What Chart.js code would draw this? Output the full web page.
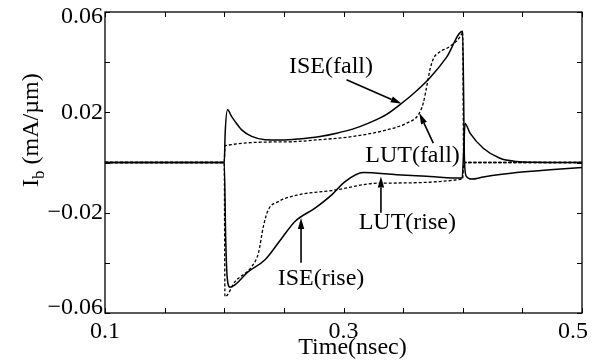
<!DOCTYPE html>
<html>
<head>
<meta charset="utf-8">
<script src="https://cdn.jsdelivr.net/npm/chart.js@4.4.0/dist/chart.umd.min.js"></script>
<style>
  html, body { margin: 0; padding: 0; background: #fff; }
  #wrap { width: 595px; height: 364px; }
</style>
</head>
<body>
<div id="wrap"><canvas id="chart" width="595" height="364"></canvas></div>
<script>
// time in nsec, current in mA/um
const iseFallX = [0.1, 0.2, 0.2008, 0.2028, 0.206, 0.209, 0.2146, 0.223, 0.2342, 0.248, 0.2621, 0.2803, 0.2943, 0.3082, 0.32, 0.3362, 0.3474, 0.3585, 0.3725, 0.3865, 0.3999, 0.4015, 0.403, 0.4075, 0.4172, 0.4312, 0.4452, 0.4732, 0.5]
const iseFallY = [0, 0, 0.012, 0.021, 0.0185, 0.0164, 0.013, 0.0104, 0.0091, 0.009, 0.0094, 0.0104, 0.0117, 0.0134, 0.0155, 0.0192, 0.0231, 0.0274, 0.0338, 0.042, 0.0523, 0.0, -0.0055, -0.0066, -0.0058, -0.0048, -0.004, -0.0029, -0.002]

const iseRiseX = [0.1, 0.2, 0.2012, 0.2025, 0.2048, 0.2202, 0.2342, 0.2482, 0.2593, 0.2761, 0.2901, 0.3013, 0.3166, 0.3446, 0.3725, 0.3995, 0.4008, 0.4019, 0.4061, 0.4172, 0.4312, 0.4452, 0.46, 0.5]
const iseRiseY = [0, 0, -0.03, -0.046, -0.0497, -0.0435, -0.0388, -0.0302, -0.0235, -0.0182, -0.0129, -0.0076, -0.004, -0.0049, -0.0056, -0.0062, 0.005, 0.0155, 0.0117, 0.0057, 0.0017, 0.0004, 0.0001, 0]

const lutFallX = [0.1, 0.2, 0.2006, 0.25, 0.2803, 0.3082, 0.3362, 0.353, 0.3627, 0.3669, 0.3698, 0.3725, 0.3755, 0.3795, 0.3893, 0.3991, 0.3999, 0.4008, 0.5]
const lutFallY = [0, 0, 0.0067, 0.0082, 0.0091, 0.0104, 0.013, 0.0157, 0.019, 0.0237, 0.0303, 0.037, 0.0415, 0.0437, 0.0463, 0.0512, 0.0522, 0, 0]

const lutRiseX = [0.1, 0.2, 0.2006, 0.209, 0.223, 0.2286, 0.2328, 0.2369, 0.2453, 0.2621, 0.2901, 0.3306, 0.3999, 0.4008, 0.5]
const lutRiseY = [0, 0, -0.0535, -0.0475, -0.0415, -0.0362, -0.0255, -0.0189, -0.0156, -0.0129, -0.0112, -0.0082, -0.0066, 0, 0]

const xTickLabels = [0.1, 0.3, 0.5]
const yTickLabels = [-0.06, -0.02, 0.02, 0.06]

// annotations, in data coordinates
const noteText = ['ISE(fall)', 'LUT(fall)', 'LUT(rise)', 'ISE(rise)']
const noteX = [0.2895, 0.3579, 0.3535, 0.2811]
const noteY = [0.038, 0.0028, -0.024, -0.0462]
const arrowFromX = [0.3025, 0.3753, 0.3314, 0.2644]
const arrowFromY = [0.033, 0.0077, -0.02, -0.04]
const arrowToX = [0.3488, 0.3636, 0.3314, 0.2644]
const arrowToY = [0.0234, 0.0197, -0.0056, -0.0221]

const FONT = '"Liberation Serif", "Times New Roman", serif'
Chart.defaults.font.family = FONT
Chart.defaults.color = '#000'

const toPoints = (xs, ys) => xs.map((x, i) => ({ x: x, y: ys[i] }))
const near = (a, b) => Math.abs(a - b) < 1e-9
const isLabel = (v, list) => list.some((t) => near(t, v))

function line(xs, ys, dashed) {
  return {
    data: toPoints(xs, ys),
    borderColor: '#000',
    borderWidth: dashed ? 1.3 : 1.5,
    borderDash: dashed ? [3, 2] : [],
    pointRadius: 0,
    fill: false,
    cubicInterpolationMode: 'monotone',
  }
}

// the end labels of the y axis sit a little inside, like in the original
function yLabel(v) {
  if (!isLabel(v, yTickLabels)) return ''
  const s = v.toFixed(2).replace('-', '\u2212')
  if (near(v, 0.06)) return ['', s]
  if (near(v, -0.06)) return [s, '']
  return s
}

function yFont(c) {
  const v = c.tick ? c.tick.value : 0
  if (near(v, 0.06)) return { size: 24, lineHeight: '8.5px' }
  if (near(v, -0.06)) return { size: 24, lineHeight: '10.5px' }
  return { size: 24 }
}

const decorations = {
  id: 'decorations',
  afterDraw(chart) {
    const ctx = chart.ctx
    const a = chart.chartArea
    const xs = chart.scales.x
    const ys = chart.scales.y
    ctx.save()
    ctx.strokeStyle = '#000'
    ctx.fillStyle = '#000'

    // frame
    ctx.lineWidth = 1.3
    ctx.strokeRect(a.left, a.top, a.right - a.left, a.bottom - a.top)

    // inward ticks on all sides
    ctx.lineWidth = 1
    ctx.beginPath()
    xs.ticks.forEach((t) => {
      const px = Math.round(xs.getPixelForValue(t.value)) + 0.5
      ctx.moveTo(px, a.bottom); ctx.lineTo(px, a.bottom - 5)
      ctx.moveTo(px, a.top); ctx.lineTo(px, a.top + 5)
    })
    ys.ticks.forEach((t) => {
      const py = Math.round(ys.getPixelForValue(t.value)) + 0.5
      ctx.moveTo(a.left, py); ctx.lineTo(a.left + 5, py)
      ctx.moveTo(a.right, py); ctx.lineTo(a.right - 5, py)
    })
    ctx.stroke()

    // annotation texts
    ctx.font = '24px ' + FONT
    ctx.textAlign = 'center'
    ctx.textBaseline = 'middle'
    noteText.forEach((txt, i) => {
      ctx.fillText(txt, xs.getPixelForValue(noteX[i]), ys.getPixelForValue(noteY[i]))
    })

    // arrows
    ctx.lineWidth = 1.6
    noteText.forEach((txt, i) => {
      const x0 = xs.getPixelForValue(arrowFromX[i])
      const y0 = ys.getPixelForValue(arrowFromY[i])
      const x1 = xs.getPixelForValue(arrowToX[i])
      const y1 = ys.getPixelForValue(arrowToY[i])
      const ang = Math.atan2(y1 - y0, x1 - x0)
      const len = 11
      const half = 3.2
      const bx = x1 - len * Math.cos(ang)
      const by = y1 - len * Math.sin(ang)
      ctx.beginPath()
      ctx.moveTo(x0, y0)
      ctx.lineTo(bx, by)
      ctx.stroke()
      ctx.beginPath()
      ctx.moveTo(x1, y1)
      ctx.lineTo(bx + half * Math.sin(ang), by - half * Math.cos(ang))
      ctx.lineTo(bx - half * Math.sin(ang), by + half * Math.cos(ang))
      ctx.closePath()
      ctx.fill()
    })

    // x axis title
    ctx.textAlign = 'center'
    ctx.textBaseline = 'alphabetic'
    ctx.fillText('Time(nsec)', (a.left + a.right) / 2 + 9, 354)

    // y axis title with subscript
    ctx.translate(38, 187)
    ctx.rotate(-Math.PI / 2)
    ctx.textAlign = 'left'
    ctx.font = '24px ' + FONT
    ctx.fillText('I', 0, 0)
    let w = ctx.measureText('I').width
    ctx.font = '17px ' + FONT
    ctx.fillText('b', w, 6)
    w += ctx.measureText('b').width
    ctx.font = '24px ' + FONT
    ctx.fillText(' (mA/\u00b5m)', w, 0)
    ctx.restore()
  },
}

new Chart(document.getElementById('chart').getContext('2d'), {
  type: 'line',
  data: {
    datasets: [
      line(iseFallX, iseFallY, false),
      line(iseRiseX, iseRiseY, false),
      line(lutFallX, lutFallY, true),
      line(lutRiseX, lutRiseY, true),
    ],
  },
  options: {
    responsive: false,
    animation: false,
    devicePixelRatio: 1,
    layout: { padding: { top: 12, right: 13, left: 0, bottom: 0 } },
    plugins: { legend: { display: false }, tooltip: { enabled: false } },
    scales: {
      x: {
        type: 'linear',
        min: 0.1,
        max: 0.5,
        grid: { display: true, drawOnChartArea: false, drawTicks: false },
        border: { display: false },
        ticks: {
          stepSize: 0.05,
          autoSkip: false,
          maxRotation: 0,
          padding: 4,
          font: { size: 24 },
          color: '#000',
          // last label is pulled inside the canvas edge
          callback: (v) => (isLabel(v, xTickLabels) ? String(Math.round(v * 10) / 10) + (near(v, 0.5) ? '   ' : '') : ''),
        },
        afterFit(scale) {
          scale.height = 51
          scale.paddingLeft = 0
          scale.paddingRight = 0
        },
      },
      y: {
        min: -0.06,
        max: 0.06,
        grid: { display: true, drawOnChartArea: false, drawTicks: false },
        border: { display: false },
        ticks: {
          stepSize: 0.02,
          autoSkip: false,
          padding: 2,
          font: yFont,
          color: '#000',
          callback: yLabel,
        },
        afterFit(scale) {
          scale.width = 105
          scale.paddingTop = 0
          scale.paddingBottom = 0
        },
      },
    },
  },
  plugins: [decorations],
})
</script>
</body>
</html>
